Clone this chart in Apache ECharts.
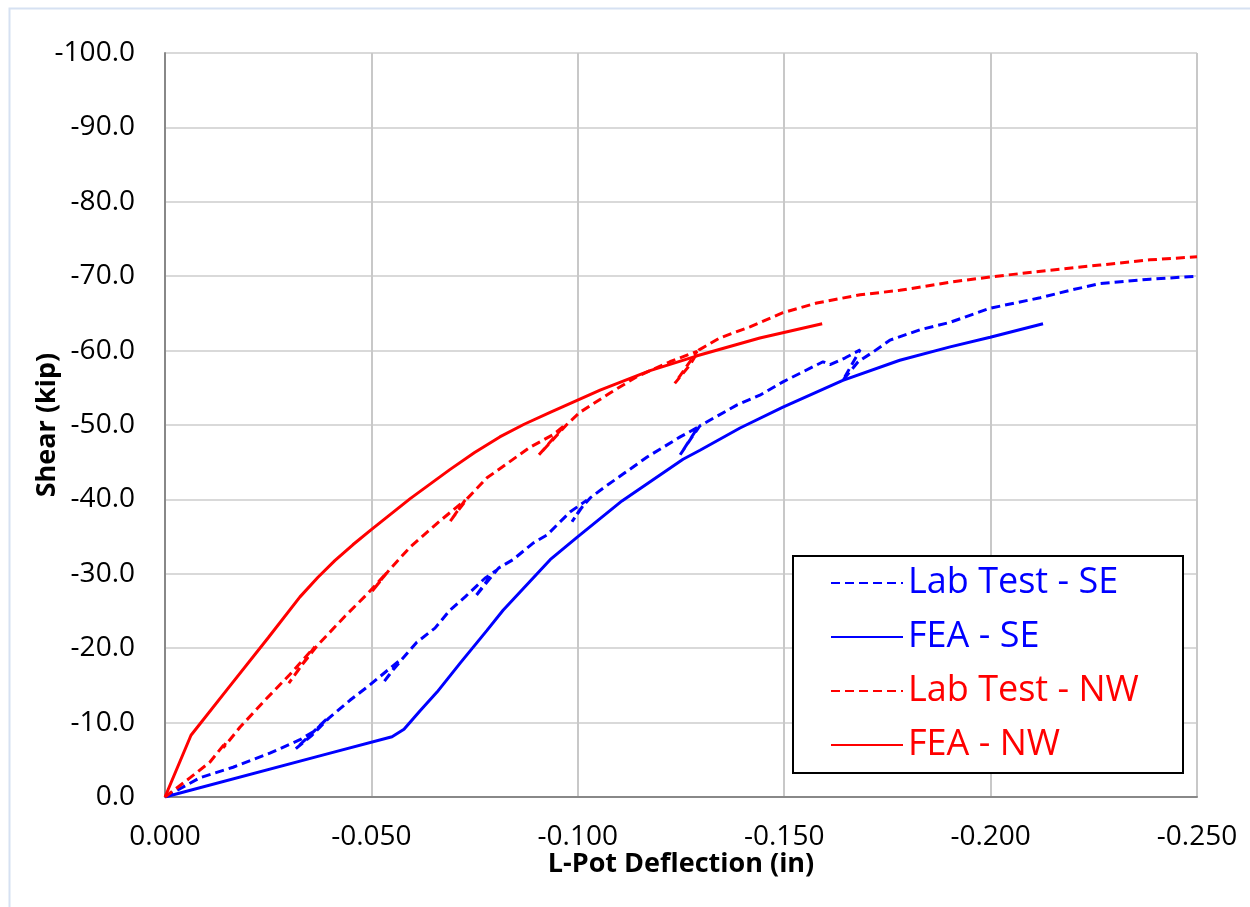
<!DOCTYPE html>
<html>
<head>
<meta charset="utf-8">
<script src="https://cdn.jsdelivr.net/npm/echarts@6/dist/echarts.min.js"></script>
<style>html,body{margin:0;padding:0;background:#fff;}#c{width:1250px;height:907px;}</style>
</head>
<body>
<div id="c"></div>
<script>
const seriesNames = ['Lab Test - SE', 'FEA - SE', 'Lab Test - NW', 'FEA - NW'];
const xTickLabels = ['0.000', '-0.050', '-0.100', '-0.150', '-0.200', '-0.250'];
const yTickLabels = ['0.0', '-10.0', '-20.0', '-30.0', '-40.0', '-50.0', '-60.0', '-70.0', '-80.0', '-90.0', '-100.0'];

const seLabDefl = [0, -0.0085, -0.0165, -0.0254, -0.0327, -0.0363, -0.0392, -0.0317, -0.0356, -0.0397, -0.0448, -0.0497, -0.0545, -0.0569, -0.0528, -0.0550, -0.0574, -0.0610, -0.0654, -0.0690, -0.0727, -0.0775, -0.0804, -0.0751, -0.0782, -0.0809, -0.0843, -0.0891, -0.0925, -0.0981, -0.1022, -0.0986, -0.1005, -0.1030, -0.1066, -0.1102, -0.1168, -0.1248, -0.1291, -0.1248, -0.1272, -0.1296, -0.1386, -0.1441, -0.1497, -0.1594, -0.1611, -0.1647, -0.1684, -0.1642, -0.1679, -0.1715, -0.1756, -0.1829, -0.1902, -0.1999, -0.2120, -0.2192, -0.2265, -0.2386, -0.2500];
const seLabShear = [0, -2.6, -4.0, -5.9, -7.7, -8.9, -10.5, -6.5, -8.3, -10.6, -13.0, -15.1, -17.3, -18.4, -15.3, -16.9, -18.5, -20.8, -22.7, -25.1, -26.9, -29.4, -30.5, -26.9, -29.2, -30.8, -31.9, -34.1, -35.2, -38.3, -39.9, -37.0, -38.6, -40.2, -41.7, -43.1, -45.7, -48.4, -49.7, -46.0, -48.0, -49.9, -52.7, -54.0, -55.8, -58.5, -58.1, -59.0, -60.1, -56.0, -58.5, -59.8, -61.4, -62.8, -63.8, -65.7, -67.1, -68.1, -69.0, -69.6, -70.0];

const seFeaDefl = [0, -0.0400, -0.0550, -0.0579, -0.0618, -0.0659, -0.0715, -0.0780, -0.0819, -0.0933, -0.0998, -0.1107, -0.1255, -0.1296, -0.1393, -0.1497, -0.1642, -0.1780, -0.1902, -0.1999, -0.2127];
const seFeaShear = [0, -5.9, -8.1, -9.1, -11.6, -14.1, -18.0, -22.4, -25.1, -31.9, -34.9, -39.8, -45.4, -46.6, -49.6, -52.4, -56.0, -58.7, -60.5, -61.8, -63.6];

const nwLabDefl = [0, -0.0061, -0.0109, -0.0148, -0.0141, -0.0182, -0.0242, -0.0303, -0.0363, -0.0300, -0.0334, -0.0368, -0.0436, -0.0492, -0.0538, -0.0501, -0.0543, -0.0594, -0.0666, -0.0727, -0.0690, -0.0732, -0.0780, -0.0884, -0.0940, -0.0969, -0.0906, -0.0974, -0.1005, -0.1078, -0.1143, -0.1223, -0.1289, -0.1235, -0.1272, -0.1294, -0.1344, -0.1417, -0.1497, -0.1579, -0.1684, -0.1780, -0.1902, -0.1999, -0.2144, -0.2265, -0.2386, -0.2500];
const nwLabShear = [0, -2.6, -4.7, -7.4, -6.6, -9.4, -13.0, -16.5, -20.2, -15.3, -17.9, -20.3, -24.3, -27.4, -30.2, -27.6, -30.5, -33.6, -37.1, -39.9, -37.0, -40.1, -42.9, -47.0, -48.7, -50.0, -46.0, -50.1, -51.7, -54.3, -56.5, -58.5, -59.9, -55.6, -58.1, -60.1, -61.7, -63.2, -65.1, -66.4, -67.5, -68.1, -69.2, -69.9, -70.8, -71.5, -72.2, -72.6];

const nwFeaDefl = [0, -0.0063, -0.0157, -0.0250, -0.0327, -0.0370, -0.0412, -0.0455, -0.0499, -0.0594, -0.0690, -0.0750, -0.0811, -0.0870, -0.0933, -0.1054, -0.1175, -0.1289, -0.1441, -0.1592];
const nwFeaShear = [0, -8.3, -14.9, -21.4, -26.9, -29.5, -31.8, -33.9, -35.9, -40.1, -44.0, -46.3, -48.4, -50.1, -51.7, -54.7, -57.3, -59.3, -61.7, -63.6];

const zip = (a, b) => a.map((v, i) => [v, b[i]]);
const BLUE = '#0000FF', RED = '#FF0000';
const FONT = 'Open Sans';

const chart = echarts.init(document.getElementById('c'), null, {renderer: 'canvas'});
function mk(name, data, color, dashed) {
  return {
    name, type: 'line', data, symbol: 'none', showSymbol: false, smooth: false,
    lineStyle: {color, width: 3, type: dashed ? [9, 5] : 'solid'},
    itemStyle: {color}, emphasis: {disabled: true}, animation: false, z: 3
  };
}
chart.setOption({
  animation: false,
  backgroundColor: '#fff',
  textStyle: {fontFamily: FONT},
  grid: {left: 165, right: 53, top: 53, bottom: 110, containLabel: false},
  xAxis: {
    type: 'value', min: -0.25, max: 0, interval: 0.05, inverse: true,
    name: 'L-Pot Deflection (in)', nameLocation: 'middle', nameGap: 54, nameMoveOverlap: false,
    nameTextStyle: {fontFamily: FONT, fontSize: 27, fontWeight: 'bold', color: '#000'},
    axisLine: {onZero: false, lineStyle: {color: '#888', width: 2}},
    axisTick: {show: false},
    axisLabel: {margin: 26, fontFamily: FONT, fontSize: 28, color: '#000',
      formatter: v => xTickLabels[Math.round(-v / 0.05)]},
    splitLine: {show: true, lineStyle: {color: '#c8c8c8', width: 2}}
  },
  yAxis: {
    type: 'value', min: -100, max: 0, interval: 10, inverse: true,
    name: 'Shear (kip)', nameLocation: 'middle', nameGap: 104, nameRotate: 90, nameMoveOverlap: false,
    nameTextStyle: {fontFamily: FONT, fontSize: 27, fontWeight: 'bold', color: '#000'},
    axisLine: {onZero: false, lineStyle: {color: '#888', width: 2}},
    axisTick: {show: false},
    axisLabel: {margin: 30, fontFamily: FONT, fontSize: 28, color: '#000',
      formatter: v => yTickLabels[Math.round(-v / 10)]},
    splitLine: {show: true, lineStyle: {color: '#d9d9d9', width: 2}}
  },
  legend: {
    orient: 'vertical', left: 830, top: 563, padding: 0, zlevel: 2,
    itemWidth: 72, itemHeight: 14, itemGap: 14,
    itemStyle: {opacity: 0},
    textStyle: {fontFamily: FONT, fontSize: 36, lineHeight: 40},
    data: [
      {name: seriesNames[0], textStyle: {color: BLUE}},
      {name: seriesNames[1], textStyle: {color: BLUE}},
      {name: seriesNames[2], textStyle: {color: RED}},
      {name: seriesNames[3], textStyle: {color: RED}}
    ],
    selectedMode: false
  },
  graphic: [
    {type: 'rect', left: 7, top: 6, shape: {x: 0, y: 0, width: 1270, height: 930},
     style: {fill: 'none', stroke: '#d6e1f2', lineWidth: 2}, z: -10, silent: true},
    {type: 'rect', shape: {x: 793, y: 556, width: 390, height: 217},
     style: {fill: '#fff', stroke: '#000', lineWidth: 2}, z: 5, silent: true}
  ],
  series: [
    mk(seriesNames[0], zip(seLabDefl, seLabShear), BLUE, true),
    mk(seriesNames[1], zip(seFeaDefl, seFeaShear), BLUE, false),
    mk(seriesNames[2], zip(nwLabDefl, nwLabShear), RED, true),
    mk(seriesNames[3], zip(nwFeaDefl, nwFeaShear), RED, false)
  ]
});
</script>
</body>
</html>
